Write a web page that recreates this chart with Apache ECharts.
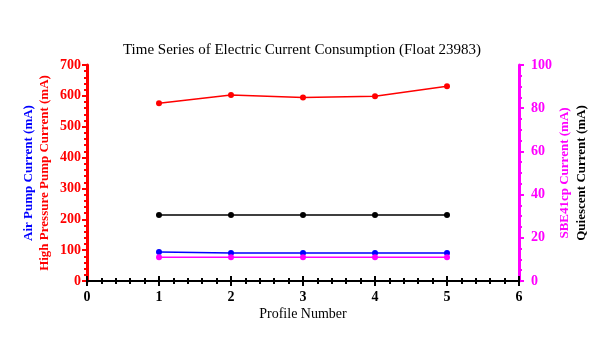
<!DOCTYPE html>
<html><head><meta charset="utf-8">
<script src="https://cdn.jsdelivr.net/npm/echarts@6/dist/echarts.min.js"></script>
<style>html,body{margin:0;padding:0;background:#fff}#c{width:604px;height:338px}</style>
</head><body><div id="c"></div>
<script>
const profiles = [1, 2, 3, 4, 5];
const highPressurePump = [576, 603, 595, 599, 631];
const airPump = [94, 91, 91, 91, 91];
const sbe41cp = [11, 11, 11, 11, 11];
const quiescent = [30.5, 30.5, 30.5, 30.5, 30.5];

const FONT = '"Liberation Serif", "DejaVu Serif", serif';
const pairs = (ys) => profiles.map((x, i) => [x, ys[i]]);

const chart = echarts.init(document.getElementById('c'), null, {renderer: 'canvas'});
const hiddenY = (pos, name, color, gap, min, max) => ({
  type: 'value', position: pos, min: min, max: max,
  name: name, nameLocation: 'middle', nameGap: gap, nameRotate: 90, nameMoveOverlap: false,
  nameTextStyle: {color: color, fontFamily: FONT, fontSize: 13, fontWeight: 'bold'},
  axisLine: {show: false}, axisTick: {show: false}, axisLabel: {show: false},
  splitLine: {show: false}
});
chart.setOption({
  animation: false,
  backgroundColor: '#fff',
  title: {
    text: 'Time Series of Electric Current Consumption (Float 23983)',
    left: 'center', top: 38,
    textStyle: {fontFamily: FONT, fontSize: 15, fontWeight: 'normal', color: '#000'}
  },
  grid: {left: 87, right: 85, top: 65, bottom: 57, containLabel: false},
  xAxis: [
    {
      type: 'value', min: 0, max: 6, interval: 1, position: 'bottom',
      name: 'Profile Number', nameLocation: 'middle', nameGap: 26, nameMoveOverlap: false,
      nameTextStyle: {fontFamily: FONT, fontSize: 14, color: '#000'},
      axisLine: {lineStyle: {color: '#000', width: 2}},
      axisTick: {show: true, length: 5, lineStyle: {color: '#000', width: 2}},
      minorTick: {show: true, splitNumber: 5, length: 3, lineStyle: {color: '#000', width: 2}},
      axisLabel: {fontFamily: FONT, fontSize: 14, fontWeight: 'bold', color: '#000', margin: 9},
      splitLine: {show: false}
    },
    {
      type: 'value', min: 0, max: 6, interval: 1, position: 'top',
      axisLine: {lineStyle: {color: '#000', width: 2}},
      axisTick: {show: true, length: 5, lineStyle: {color: '#000', width: 2}},
      minorTick: {show: true, splitNumber: 5, length: 3, lineStyle: {color: '#000', width: 2}},
      axisLabel: {show: false},
      splitLine: {show: false}
    }
  ],
  yAxis: [
    {
      type: 'value', position: 'left', min: 0, max: 700, interval: 100,
      name: 'High Pressure Pump Current (mA)', nameLocation: 'middle', nameGap: 36, nameRotate: 90, nameMoveOverlap: false,
      nameTextStyle: {color: '#ff0000', fontFamily: FONT, fontSize: 13, fontWeight: 'bold'},
      axisLine: {lineStyle: {color: '#ff0000', width: 3}},
      axisTick: {show: true, length: 5, lineStyle: {color: '#ff0000', width: 2}},
      minorTick: {show: true, splitNumber: 5, length: 3, lineStyle: {color: '#ff0000', width: 2}},
      axisLabel: {fontFamily: FONT, fontSize: 14, fontWeight: 'bold', color: '#ff0000', margin: 6},
      splitLine: {show: false}
    },
    hiddenY('left', 'Air Pump Current (mA)', '#0000ff', 52, 0, 700),
    {
      type: 'value', position: 'right', min: 0, max: 100, interval: 20,
      name: 'SBE41cp Current (mA)', nameLocation: 'middle', nameGap: 39, nameRotate: 90, nameMoveOverlap: false,
      nameTextStyle: {color: '#ff00ff', fontFamily: FONT, fontSize: 13, fontWeight: 'bold'},
      axisLine: {lineStyle: {color: '#ff00ff', width: 3}},
      axisTick: {show: true, length: 5, lineStyle: {color: '#ff00ff', width: 2}},
      minorTick: {show: true, splitNumber: 4, length: 3, lineStyle: {color: '#ff00ff', width: 2}},
      axisLabel: {fontFamily: FONT, fontSize: 14, fontWeight: 'bold', color: '#ff00ff', margin: 12},
      splitLine: {show: false}
    },
    hiddenY('right', 'Quiescent Current (mA)', '#000000', 56, 0, 100)
  ],
  series: [
    {name: 'High Pressure Pump', type: 'line', xAxisIndex: 0, yAxisIndex: 0, data: pairs(highPressurePump),
     symbol: 'circle', symbolSize: 6, color: '#ff0000', lineStyle: {width: 1.5}},
    {name: 'Quiescent', type: 'line', xAxisIndex: 0, yAxisIndex: 3, data: pairs(quiescent),
     symbol: 'circle', symbolSize: 6, color: '#000000', lineStyle: {width: 1.5}},
    {name: 'Air Pump', type: 'line', xAxisIndex: 0, yAxisIndex: 1, data: pairs(airPump),
     symbol: 'circle', symbolSize: 6, color: '#0000ff', lineStyle: {width: 1.5}},
    {name: 'SBE41cp', type: 'line', xAxisIndex: 0, yAxisIndex: 2, data: pairs(sbe41cp),
     symbol: 'circle', symbolSize: 6, color: '#ff00ff', lineStyle: {width: 1.5}}
  ]
});
</script></body></html>
